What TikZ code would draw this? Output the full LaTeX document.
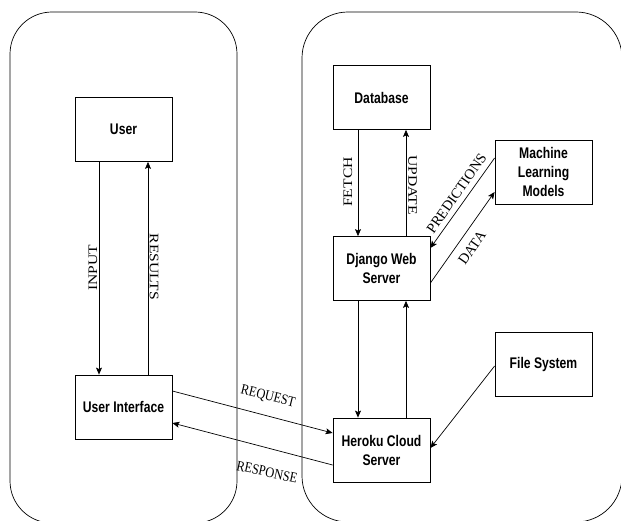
\documentclass[tikz,border=0pt]{standalone}
\usepackage{fontspec}
\setmainfont{Liberation Serif}
\newfontfamily\boxfont[FakeStretch=0.79]{Liberation Sans}
\newfontfamily\flatfont[FakeStretch=0.85]{Liberation Serif}
\newfontfamily\tallfont[FakeStretch=1.2]{Liberation Serif}
\usepackage{tikz}
\usetikzlibrary{arrows.meta}
\tikzset{
  blk/.style={draw=black, line width=0.8pt, minimum width=97pt, minimum height=64pt,
              align=center, inner sep=2pt, font=\boxfont\fontsize{15.4}{19}\selectfont\bfseries},
  zonebox/.style={draw=black, line width=0.7pt, rounded corners=42pt},
  flow/.style={-{Stealth[length=7pt, width=6pt, inset=1.5pt]}, line width=0.7pt, color=black},
  vlbl/.style={font=\tallfont\fontsize{13}{15}\selectfont, inner sep=0pt},
  hlbl/.style={font=\flatfont\fontsize{14.5}{16}\selectfont, inner sep=0pt},
  dlbl/.style={font=\rmfamily\fontsize{14.4}{16}\selectfont, inner sep=0pt},
}

\begin{document}
\begin{tikzpicture}[x=1pt, y=-1pt]
  \useasboundingbox (0,0) rectangle (621,521);
  \clip (0,0) rectangle (621,521);
  \draw[zonebox] (10,12) rectangle (237,523);
  \draw[zonebox, rounded corners=46pt] (302,12) rectangle (622,522);
  \node[blk] (user) at (123.5,129.5) {User};
  \node[blk] (ui) at (123.5,407) {User Interface};
  \node[blk] (db) at (381.5,97.5) {Database};
  \node[blk] (ml) at (543.5,172) {Machine\\Learning\\Models};
  \node[blk] (django) at (381.5,268.5) {Django Web\\Server};
  \node[blk] (heroku) at (381.5,450) {Heroku Cloud\\Server};
  \node[blk] (fs) at (543.5,364.5) {File System};
  \draw[flow] ([xshift=-24.5pt]user.south) -- ([xshift=-24.5pt]ui.north);
  \draw[flow] ([xshift=24.5pt]ui.north) -- ([xshift=24.5pt]user.south);
  \draw[flow] ([xshift=-23.5pt]db.south) -- ([xshift=-23.5pt]django.north);
  \draw[flow] ([xshift=24.5pt]django.north) -- ([xshift=24.5pt]db.south);
  \draw[flow] ([xshift=-23.5pt]django.south) -- ([xshift=-23.5pt]heroku.north);
  \draw[flow] ([xshift=24.5pt]heroku.north) -- ([xshift=24.5pt]django.south);
  \draw[flow] ([yshift=14pt]ml.west) -- ([yshift=20.5pt]django.east);
  \draw[flow] ([yshift=-14.5pt]django.east) -- ([yshift=-20pt]ml.west);
  \draw[flow] ([yshift=-1.5pt]fs.west) -- ([yshift=2pt]heroku.east);
  \draw[flow] ([yshift=16pt]ui.east) -- ([yshift=17pt]heroku.west);
  \draw[flow] ([yshift=-15pt]heroku.west) -- ([yshift=-16pt]ui.east);
  \node[vlbl, rotate=90] (input) at (93,268) {INPUT};
  \node[vlbl, rotate=-90] (results) at (154,267) {RESULTS};
  \node[vlbl, rotate=90] (fetch) at (348,182) {FETCH};
  \node[vlbl, rotate=-90] (update) at (412.5,185) {UPDATE};
  \node[hlbl, rotate=-14] (request) at (268,397) {REQUEST};
  \node[hlbl, rotate=-12] (response) at (267,472) {RESPONSE};
  \node[dlbl, rotate=55] (predictions) at (456.5,193.5) {PREDICTIONS};
  \node[dlbl, rotate=55] (data) at (472,248) {DATA};
\end{tikzpicture}
\end{document}
